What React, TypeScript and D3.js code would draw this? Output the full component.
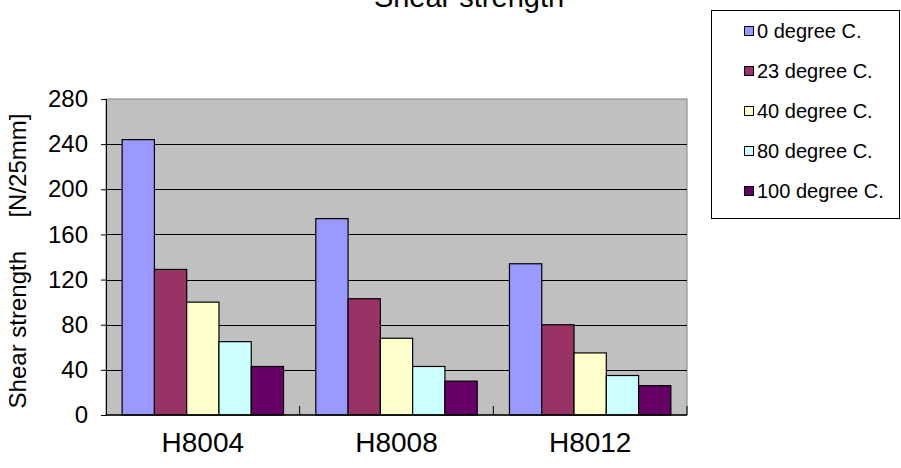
import React, { useRef, useEffect } from 'react';
import * as d3 from 'd3';

const categories = ['H8004', 'H8008', 'H8012'];
const seriesNames = ['0 degree C.', '23 degree C.', '40 degree C.', '80 degree C.', '100 degree C.'];
const seriesColors = ['#9999FF', '#993366', '#FFFFCC', '#CCFFFF', '#660066'];
const values0 = [244, 174, 134];
const values23 = [129, 103, 80];
const values40 = [100, 68, 55];
const values80 = [65, 43, 35];
const values100 = [43, 30, 26];
const yTicks = [0, 40, 80, 120, 160, 200, 240, 280];

const seriesValues = [values0, values23, values40, values80, values100];

const width = 901;
const height = 468;
const plot = { left: 106, top: 99, right: 687, bottom: 415 };
const font = 'Liberation Sans, Arial, sans-serif';

const App: React.FC = () => {
  const svgRef = useRef<SVGSVGElement | null>(null);

  useEffect(() => {
    if (!svgRef.current) return;
    const svg = d3.select(svgRef.current);
    svg.selectAll('*').remove();

    const x0 = d3.scaleBand().domain(categories).range([plot.left, plot.right]).padding(0);
    const x1 = d3.scaleBand()
      .domain(seriesNames)
      .range([0, x0.bandwidth()])
      .paddingInner(0)
      .paddingOuter(0.5);
    const y = d3.scaleLinear().domain([0, 280]).range([plot.bottom, plot.top]);

    // plot background
    svg.append('rect')
      .attr('x', plot.left)
      .attr('y', plot.top)
      .attr('width', plot.right - plot.left)
      .attr('height', plot.bottom - plot.top)
      .attr('fill', '#C0C0C0')
      .attr('stroke', '#808080')
      .attr('stroke-width', 1);

    // gridlines
    svg.append('g')
      .selectAll('line')
      .data(yTicks.filter(t => t > 0 && t < 280))
      .join('line')
      .attr('x1', plot.left)
      .attr('x2', plot.right)
      .attr('y1', d => Math.round(y(d)) + 0.5)
      .attr('y2', d => Math.round(y(d)) + 0.5)
      .attr('stroke', '#000')
      .attr('stroke-width', 1);

    // bars
    const groups = svg.append('g')
      .selectAll('g')
      .data(categories)
      .join('g')
      .attr('transform', d => `translate(${x0(d)},0)`);

    groups.selectAll('rect')
      .data((_, ci) => seriesNames.map((name, si) => ({ name, si, value: seriesValues[si][ci] })))
      .join('rect')
      .attr('x', d => x1(d.name)!)
      .attr('y', d => y(d.value))
      .attr('width', x1.bandwidth())
      .attr('height', d => plot.bottom - y(d.value))
      .attr('fill', d => seriesColors[d.si])
      .attr('stroke', '#000')
      .attr('stroke-width', 1.2);

    // y axis
    const yAxis = svg.append('g')
      .attr('transform', `translate(${plot.left},0)`)
      .call(d3.axisLeft(y).tickValues(yTicks).tickSize(5).tickPadding(13));
    yAxis.select('.domain').attr('stroke', '#000');
    yAxis.selectAll('text')
      .attr('font-family', font)
      .attr('font-size', 24)
      .attr('fill', '#000');

    // x axis
    svg.append('line')
      .attr('x1', plot.left)
      .attr('x2', plot.right)
      .attr('y1', plot.bottom)
      .attr('y2', plot.bottom)
      .attr('stroke', '#000')
      .attr('stroke-width', 1.5);

    const boundaries = categories.map(c => x0(c)! + x0.bandwidth());
    svg.append('g')
      .selectAll('line')
      .data(boundaries)
      .join('line')
      .attr('x1', d => d)
      .attr('x2', d => d)
      .attr('y1', plot.bottom)
      .attr('y2', plot.bottom - 9)
      .attr('stroke', '#000');

    svg.append('g')
      .selectAll('text')
      .data(categories)
      .join('text')
      .attr('x', d => x0(d)! + x0.bandwidth() / 2)
      .attr('y', 452)
      .attr('text-anchor', 'middle')
      .attr('font-family', font)
      .attr('font-size', 28)
      .text(d => d);

    // y title
    svg.append('text')
      .attr('transform', `translate(26,261) rotate(-90)`)
      .attr('text-anchor', 'middle')
      .attr('font-family', font)
      .attr('font-size', 24)
      .style('white-space', 'pre')
      .text('Shear strength     [N/25mm]');

    // title
    svg.append('text')
      .attr('x', 469)
      .attr('y', 7)
      .attr('text-anchor', 'middle')
      .attr('font-family', font)
      .attr('font-size', 29)
      .text('Shear strength');

    // legend
    const legend = svg.append('g');
    legend.append('rect')
      .attr('x', 711.5)
      .attr('y', 10.5)
      .attr('width', 188)
      .attr('height', 208)
      .attr('fill', '#fff')
      .attr('stroke', '#000');

    const items = legend.selectAll('g.item')
      .data(seriesNames)
      .join('g')
      .attr('class', 'item')
      .attr('transform', (_, i) => `translate(744,${31 + i * 40})`);

    items.append('rect')
      .attr('x', 0.5)
      .attr('y', -4.5)
      .attr('width', 9)
      .attr('height', 9)
      .attr('fill', (_, i) => seriesColors[i])
      .attr('stroke', '#000');

    items.append('text')
      .attr('x', 13)
      .attr('y', 7)
      .attr('font-family', font)
      .attr('font-size', 20)
      .text(d => d);
  }, []);

  return (
    <svg
      ref={svgRef}
      width={width}
      height={height}
      style={{ position: 'absolute', left: 0, top: 0, background: '#fff' }}
    />
  );
};

export default App;
